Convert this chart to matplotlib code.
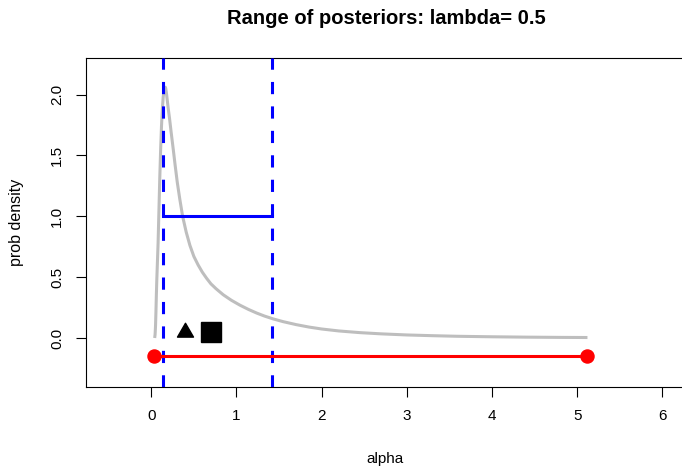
import matplotlib
matplotlib.use("Agg")
import matplotlib.pyplot as plt
from matplotlib.path import Path

plt.rcParams['font.family'] = ['Liberation Sans', 'DejaVu Sans']

# posterior density curve
alpha = [0.040, 0.045, 0.050, 0.055, 0.060, 0.065, 0.070, 0.080, 0.090, 0.100,
         0.110, 0.120, 0.130, 0.140, 0.150, 0.160, 0.165, 0.170, 0.180, 0.190,
         0.200, 0.215, 0.235, 0.258, 0.280, 0.305, 0.335, 0.368, 0.410, 0.454,
         0.50, 0.55, 0.60, 0.65, 0.70, 0.76, 0.845, 0.94, 1.04, 1.14,
         1.237, 1.33, 1.43, 1.55, 1.70, 1.85, 2.0, 2.2, 2.45, 2.7,
         3.0, 3.3, 3.6, 4.0, 4.4, 4.8, 5.12]
dens = [0.0, 0.03, 0.10, 0.22, 0.36, 0.48, 0.58, 0.78, 1.05, 1.32,
        1.55, 1.74, 1.88, 1.98, 2.03, 2.06, 2.06, 2.05, 2.00, 1.94,
        1.88, 1.80, 1.68, 1.55, 1.42, 1.28, 1.14, 1.00, 0.87, 0.76,
        0.67, 0.60, 0.54, 0.49, 0.445, 0.405, 0.355, 0.31, 0.27, 0.235,
        0.205, 0.18, 0.157, 0.134, 0.110, 0.090, 0.074, 0.058, 0.044, 0.034,
        0.025, 0.019, 0.014, 0.010, 0.007, 0.005, 0.004]

# range of the prior support (red) and interval (blue)
support = [0.035, 5.11]
support_y = -0.148
interval = [0.14, 1.42]
interval_y = 1.0
tri_pt = (0.40, 0.05)
sq_pt = (0.70, 0.05)

xticks = [0, 1, 2, 3, 4, 5, 6]
yticks = [0.0, 0.5, 1.0, 1.5, 2.0]

fig = plt.figure(figsize=(6.82, 4.69), dpi=100)
ax = fig.add_axes([0.1265, 0.1755, 0.891, 0.7008])

ax.plot(alpha, dens, color='#bebebe', lw=2.2, solid_capstyle='butt',
        solid_joinstyle='round', zorder=2)

for v in interval:
    ax.axvline(v, color='blue', lw=2.2, dashes=(4, 4), zorder=3)
ax.plot(interval, [interval_y, interval_y], color='blue', lw=2.2, zorder=3)

ax.plot(support, [support_y, support_y], color='red', lw=2.2, zorder=3)
ax.plot(support, [support_y, support_y], 'o', color='red', ms=9.4, zorder=4)

# R style triangle (pch 17), centre not at bbox centre
tri = Path([(0, 1), (-0.866, -0.5), (0.866, -0.5), (0, 1)],
           [Path.MOVETO, Path.LINETO, Path.LINETO, Path.CLOSEPOLY])
ax.plot([tri_pt[0]], [tri_pt[1]], marker=tri, color='black', ms=13.3, ls='none')
ax.plot([sq_pt[0]], [sq_pt[1]], marker='s', color='black', ms=14.4, ls='none')

ax.set_xlim(-0.763, 6.37)
ax.set_ylim(-0.40, 2.30)
ax.set_xticks(xticks)
ax.set_xticklabels([str(t) for t in xticks])
ax.set_yticks(yticks)
ax.set_yticklabels(['%.1f' % t for t in yticks], rotation=90, va='center')
ax.tick_params(direction='out', length=7, width=0.8, labelsize=11, pad=9)
for s in ax.spines.values():
    s.set_linewidth(0.8)

fig.text(0.567, 1 - 18 / 469, 'Range of posteriors: lambda= 0.5',
         ha='center', va='center', fontsize=14.5, fontweight='bold')
fig.text(0.5645, 1 - 459 / 469, 'alpha', ha='center', va='center', fontsize=11)
fig.text(17 / 682, 1 - 222 / 469, 'prob density', ha='center', va='center',
         fontsize=11.5, rotation=90)

fig.savefig('out.png', dpi=100)
